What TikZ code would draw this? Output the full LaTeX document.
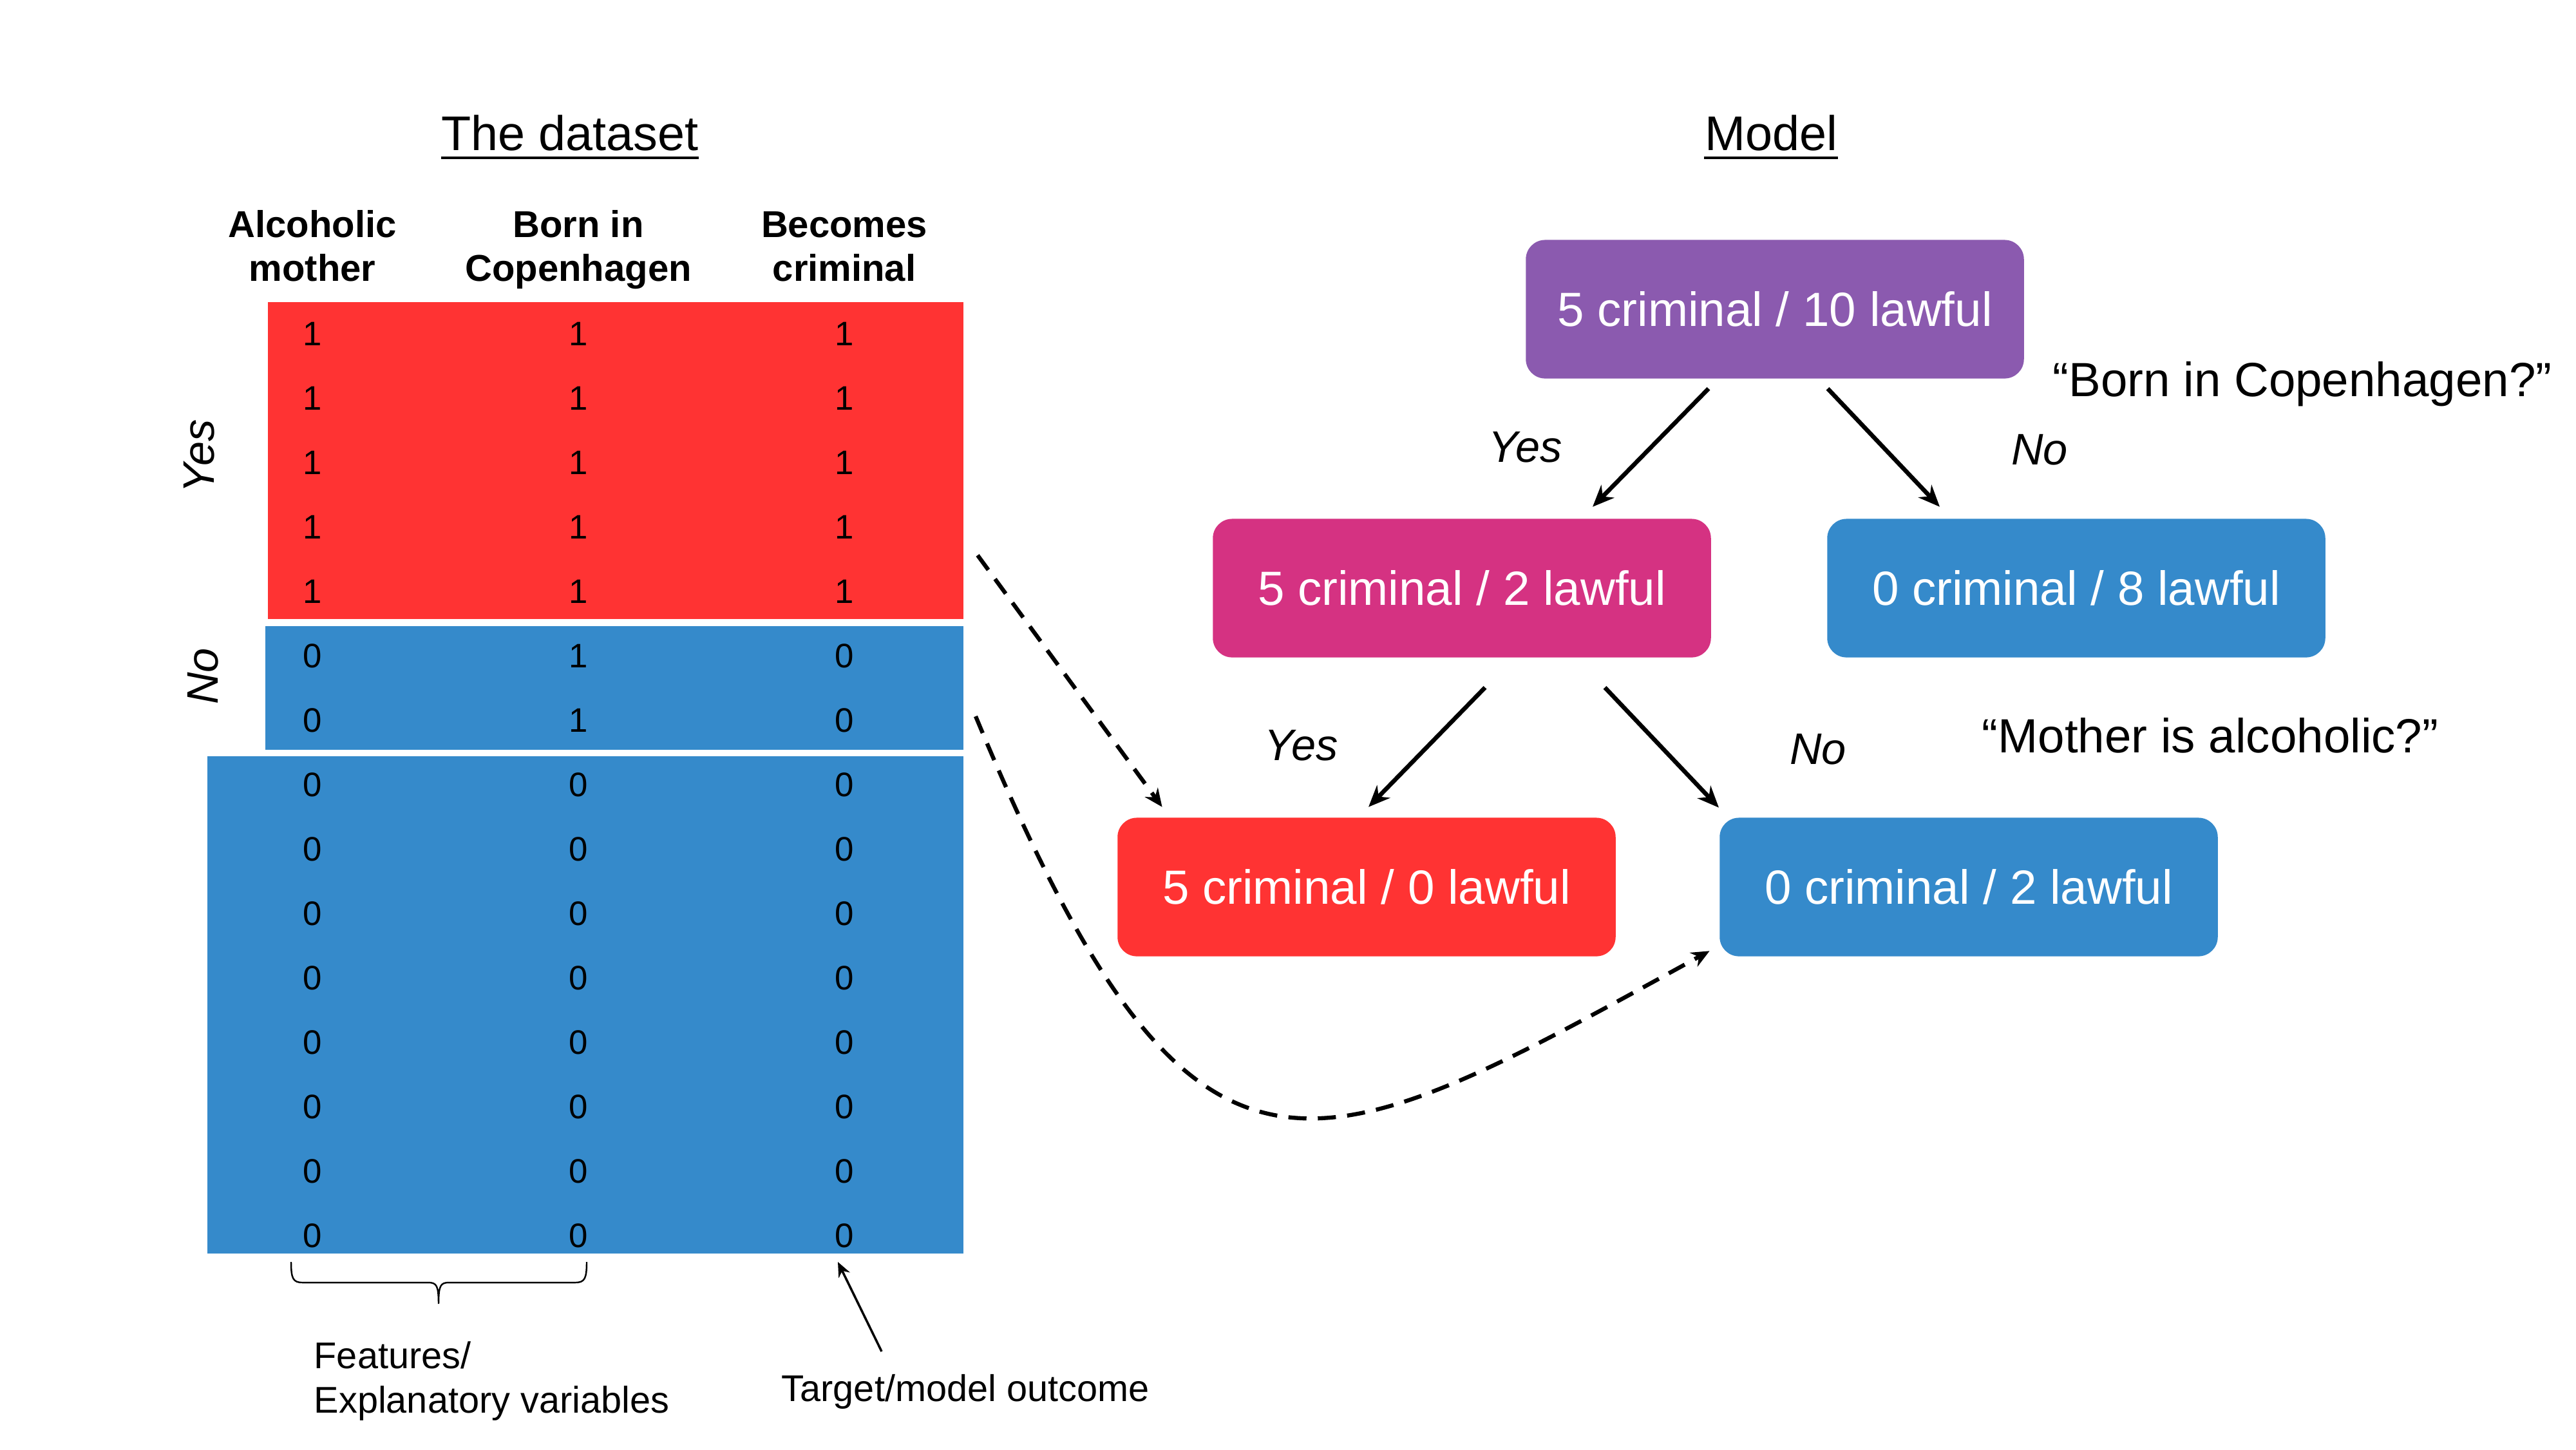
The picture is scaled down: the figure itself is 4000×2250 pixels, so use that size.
\documentclass[tikz,border=0pt]{standalone}
\usepackage{fontspec}
\setmainfont{Liberation Sans}
\usetikzlibrary{arrows.meta,calc}
\definecolor{cred}{HTML}{FF3333}
\definecolor{cblue}{HTML}{358ACB}
\definecolor{cpurple}{HTML}{8B5AAF}
\definecolor{cpink}{HTML}{D53282}
\begin{document}
\begin{tikzpicture}[x=0.01cm,y=-0.01cm,
  leaf/.style={rounded corners=0.3cm, minimum width=7.73cm, minimum height=2.15cm,
    text=white, font=\fontsize{21.2}{25}\selectfont, inner sep=0pt},
  title/.style={font=\fontsize{21.5}{25}\selectfont, inner sep=0pt, anchor=base},
  hdr/.style={font=\fontsize{16.5}{19.4}\selectfont\bfseries, inner sep=0pt, anchor=base},
  digit/.style={font=\fontsize{15}{18}\selectfont, inner sep=0pt},
  side/.style={font=\fontsize{19.5}{23}\selectfont\itshape, inner sep=0pt, rotate=90},
  branch/.style={font=\fontsize{19.5}{23}\selectfont\itshape, inner sep=0pt},
  question/.style={font=\fontsize{21.2}{25}\selectfont, inner sep=0pt, anchor=base},
  note/.style={font=\fontsize{16.4}{19.4}\selectfont, inner sep=0pt, anchor=base},
  arr/.style={line width=1.9pt, -{Stealth[length=9.5pt,width=8pt]}},
  darr/.style={line width=1.8pt, dash pattern=on 8pt off 5pt, -{Stealth[length=8pt,width=7pt]}},
  thinarr/.style={line width=1pt, -{Stealth[length=6.5pt,width=5.5pt]}}
]
\useasboundingbox (0,0) rectangle (4000,2250);
\fill[white] (0,0) rectangle (4000,2250);

% titles
\node[title] (tdata) at (885,233) {The dataset};
\draw[line width=1.4pt] ($(tdata.base west)+(0,12)$) -- ($(tdata.base east)+(0,12)$);
\node[title] (tmodel) at (2750,233) {Model};
\draw[line width=1.4pt] ($(tmodel.base west)+(0,12)$) -- ($(tmodel.base east)+(0,12)$);

% column headers
\node[hdr] (h1a) at (485,368) {Alcoholic};
\node[hdr] (h1b) at (485,436) {mother};
\node[hdr] (h2a) at (898,368) {Born in};
\node[hdr] (h2b) at (898,436) {Copenhagen};
\node[hdr] (h3a) at (1311,368) {Becomes};
\node[hdr] (h3b) at (1311,436) {criminal};

% table blocks
\fill[cred] (416,469) rectangle (1496,961);
\fill[cblue] (412,972) rectangle (1496,1164);
\fill[cblue] (322,1174) rectangle (1496,1946);

\foreach \r/\a/\b/\c in {0/1/1/1,1/1/1/1,2/1/1/1,3/1/1/1,4/1/1/1,
  5/0/1/0,6/0/1/0,7/0/0/0,8/0/0/0,9/0/0/0,10/0/0/0,11/0/0/0,12/0/0/0,13/0/0/0,14/0/0/0}{
  \node[digit] (d\r-1) at (485,{518+100*\r}) {\a};
  \node[digit] (d\r-2) at (898,{518+100*\r}) {\b};
  \node[digit] (d\r-3) at (1311,{518+100*\r}) {\c};
}

\node[side] (syes) at (309,708) {Yes};
\node[side] (sno) at (315,1050) {No};

% brace
\draw[line width=0.7pt] (452,1959) .. controls (452,1985) and (455,1991) .. (470,1991)
  -- (665,1991) .. controls (678,1991) and (681,1996) .. (681,2024)
  .. controls (681,1996) and (684,1991) .. (697,1991)
  -- (893,1991) .. controls (908,1991) and (911,1985) .. (911,1959);

\node[note, anchor=base west] (feat1) at (487,2124) {Features/};
\node[note, anchor=base west] (feat2) at (487,2193) {Explanatory variables};
\node[note] (target) at (1499,2175) {Target/model outcome};
\coordinate (tgttail) at (1369,2098);
\coordinate (tgthead) at (1301,1959);
\draw[thinarr] (tgttail) -- (tgthead);

% tree
\node[leaf, fill=cpurple] (root) at (2756,480) {5 criminal / 10 lawful};
\node[leaf, fill=cpink] (pink) at (2270,913) {5 criminal / 2 lawful};
\node[leaf, fill=cblue] (bright) at (3224,913) {0 criminal / 8 lawful};
\node[leaf, fill=cred] (rleaf) at (2122,1377) {5 criminal / 0 lawful};
\node[leaf, fill=cblue] (bleaf) at (3057,1377) {0 criminal / 2 lawful};

\draw[arr] ($(root.south)+(-103,15)$) -- ($(pink.north)+(203,-18)$);
\draw[arr] ($(root.south)+(82,15)$) -- ($(bright.north)+(-212,-18)$);
\draw[arr] ($(pink.south)+(36,46)$) -- ($(rleaf.north)+(3,-16)$);
\draw[arr] ($(pink.south)+(222,46)$) -- ($(bleaf.north)+(-388,-15)$);

\node[branch] (by1) at (2369,694) {Yes};
\node[branch] (bn1) at (3167,698) {No};
\node[branch] (by2) at (2021,1157) {Yes};
\node[branch] (bn2) at (2823,1163) {No};

\node[question] (q1) at (3575,615) {“Born in Copenhagen?”};
\node[question] (q2) at (3432,1168) {“Mother is alcoholic?”};

% dashed links
\coordinate (ds1) at (1518,862);
\coordinate (ds2) at (1515,1112);
\draw[darr] (ds1) -- ($(rleaf.north west)+(70,-16)$);
\draw[darr] (ds2) .. controls (1856,1933) and (2033,1817) .. ($(bleaf.south west)+(-15,-9)$);
\end{tikzpicture}
\end{document}
